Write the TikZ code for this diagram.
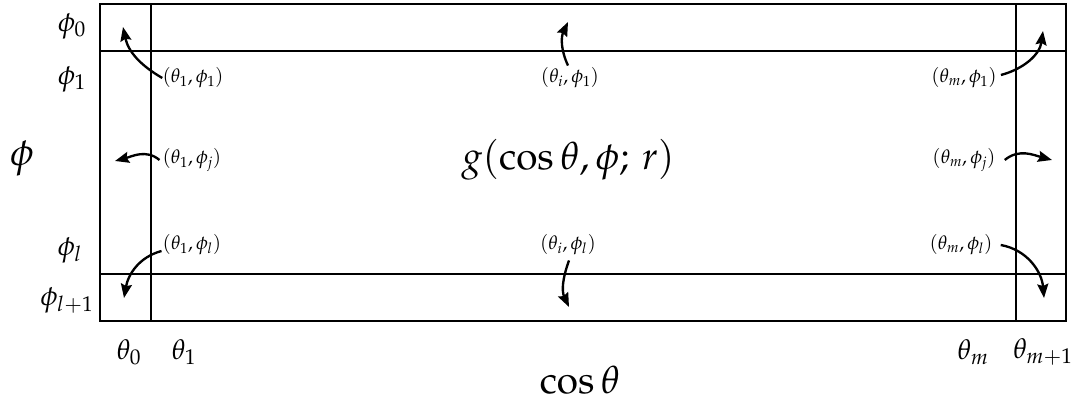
\documentclass[tikz,border=0pt]{standalone}
\usepackage{amsmath,amssymb}
\usepackage{mathpazo}
\usepackage{tikz}
\usetikzlibrary{arrows.meta}

\begin{document}
\begin{tikzpicture}[
        x=0.03cm, y=-0.03cm,
        grid/.style={line width=0.9pt},
        pt/.style={font=\fontsize{16.5}{19}\selectfont, inner sep=0pt},
        ax/.style={font=\fontsize{24}{28}\selectfont, inner sep=0pt},
        big/.style={font=\fontsize{33}{38}\selectfont, inner sep=0pt},
        arr/.style={-{Stealth[length=4.2mm, width=3.3mm, inset=0.6mm]}, line width=2pt}]
        \useasboundingbox (0,0) rectangle (1071,403);
        % cells
        \draw[grid] (100,4) rectangle (1066,321);
        \draw[grid] (151,4) -- (151,321);
        \draw[grid] (1016,4) -- (1016,321);
        \draw[grid] (100,51) -- (1066,51);
        \draw[grid] (100,274) -- (1066,274);
        % axis labels
        \node[ax] (p0) at (72,26) {$\phi_0$};
        \node[ax] (p1) at (72,79) {$\phi_1$};
        \node[big] (phi) at (22,158) {$\phi$};
        \node[ax] (pl) at (70,250) {$\phi_l$};
        \node[ax] (pl1) at (67,300) {$\phi_{l+1}$};
        \node[ax] (t0) at (129,352) {$\theta_0$};
        \node[ax] (t1) at (184,352) {$\theta_1$};
        \node[ax] (tm) at (973,352) {$\theta_m$};
        \node[ax] (tm1) at (1043,352) {$\theta_{m+1}$};
        \node[big] (cth) at (580,380) {$\cos\theta$};
        \node[big] (g) at (568,160) {$g(\cos\theta,\phi;\,r)$};
        % grid points
        \node[pt] (a11) at (193,78) {$(\theta_1,\phi_1)$};
        \node[pt] (ai1) at (570,78) {$(\theta_i,\phi_1)$};
        \node[pt] (am1) at (964,78) {$(\theta_m,\phi_1)$};
        \node[pt] (a1j) at (192,160) {$(\theta_1,\phi_j)$};
        \node[pt] (amj) at (964,160) {$(\theta_m,\phi_j)$};
        \node[pt] (a1l) at (192,245) {$(\theta_1,\phi_l)$};
        \node[pt] (ail) at (568,245) {$(\theta_i,\phi_l)$};
        \node[pt] (aml) at (961,245) {$(\theta_m,\phi_l)$};
        \coordinate (e11) at (123,27);
        \coordinate (ei1) at (568,22);
        \coordinate (em1) at (1043,31);
        \coordinate (e1j) at (115,161);
        \coordinate (emj) at (1052,160);
        \coordinate (e1l) at (124,298);
        \coordinate (eil) at (569,307);
        \coordinate (eml) at (1044,298);
        % ghost points
        \draw[arr] (a11.west) to[out=150, in=-78] (e11);
        \draw[arr] (ai1.north) ++(-2,-2) to[out=115, in=245] (ei1);
        \draw[arr] (am1.east) ++(4,-3) to[out=15, in=262] (em1);
        \draw[arr] (a1j.west) ++(-3,0) to[out=140, in=15] (e1j);
        \draw[arr] (amj.east) ++(9,0) to[out=40, in=165] (emj);
        \draw[arr] (a1l.west) ++(-1,6) to[out=195, in=80] (e1l);
        \draw[arr] (ail.south) ++(1,5) to[out=250, in=115] (eil);
        \draw[arr] (aml.east) ++(8,0) to[out=-10, in=95] (eml);
    \end{tikzpicture}
\end{document}
